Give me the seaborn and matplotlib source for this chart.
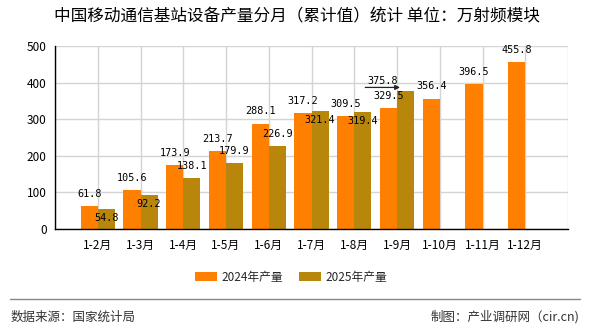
import matplotlib
matplotlib.use("Agg")
import matplotlib.pyplot as plt
import matplotlib.transforms as mtrans
from matplotlib.lines import Line2D
import seaborn as sns
import pandas as pd
import numpy as np

categories = ["1-2月", "1-3月", "1-4月", "1-5月", "1-6月", "1-7月", "1-8月",
              "1-9月", "1-10月", "1-11月", "1-12月"]
values_2024 = [61.8, 105.6, 173.9, 213.7, 288.1, 317.2, 309.5, 329.5, 356.4, 396.5, 455.8]
values_2025 = [54.8, 92.2, 138.1, 179.9, 226.9, 321.4, 319.4, 375.8]
series_names = ["2024年产量", "2025年产量"]
colors = ["#FF8000", "#B8860B"]
# label placement for 2025 series (above / below bar top, or with leader arrow)
label_mode_2025 = ["below", "below", "above", "above", "above", "below", "below", "arrow"]

title = "中国移动通信基站设备产量分月（累计值）统计 单位：万射频模块"
source_text = "数据来源：国家统计局"
credit_text = "制图：产业调研网（cir.cn)"

rows = []
for c, v in zip(categories, values_2024):
    rows.append({"cat": c, "series": series_names[0], "val": v})
for i, c in enumerate(categories):
    v = values_2025[i] if i < len(values_2025) else np.nan
    rows.append({"cat": c, "series": series_names[1], "val": v})
df = pd.DataFrame(rows)

sns.set_style("white")
plt.rcParams["font.family"] = ["Noto Sans CJK SC", "DejaVu Sans"]

W, H = 590, 330
fig = plt.figure(figsize=(W / 100, H / 100), dpi=100)
ax = fig.add_axes([55 / W, 1 - 229 / H, (568 - 55) / W, (229 - 46) / H])

sns.barplot(data=df, x="cat", y="val", hue="series", order=categories,
            hue_order=series_names, palette=colors, width=0.8, ax=ax,
            saturation=1, errorbar=None, zorder=2, linewidth=0, edgecolor="none")

handles, labels = ax.get_legend_handles_labels()
if ax.get_legend() is not None:
    ax.get_legend().remove()

ax.set_xlim(-1, len(categories))
ax.set_ylim(0, 500)
ax.set_yticks(range(0, 501, 100))
ax.set_xticks(range(-1, len(categories) + 1))
ax.set_xticklabels([""] + categories + [""])
ax.set_xlabel("")
ax.set_ylabel("")
ax.grid(True, color="#d4d4d4", lw=1, zorder=0)
ax.set_axisbelow(True)
for s in ["top", "right"]:
    ax.spines[s].set_visible(False)
for s in ["left", "bottom"]:
    ax.spines[s].set_color("black")
    ax.spines[s].set_linewidth(1)
ax.tick_params(axis="both", direction="out", length=4, width=1, color="black",
               labelsize=8.5, labelcolor="black", pad=2)
ax.tick_params(axis="x", pad=3)

mono = "DejaVu Sans Mono"
lab_fs = 7.3

# 2024 labels
bars24 = ax.containers[0]
for bar in bars24:
    h = bar.get_height()
    if np.isnan(h):
        continue
    x = bar.get_x() + bar.get_width() / 2
    ax.annotate(f"{h:.1f}", xy=(x, h), xytext=(0, 8.8), textcoords="offset points",
                ha="center", va="center", fontsize=lab_fs, family=mono, color="black")

# 2025 labels
bars25 = [b for b in ax.containers[1] if not np.isnan(b.get_height())]
for bar, mode in zip(bars25, label_mode_2025):
    h = bar.get_height()
    x = bar.get_x() + bar.get_width() / 2
    if mode == "above":
        ax.annotate(f"{h:.1f}", xy=(x, h), xytext=(0, 8.8), textcoords="offset points",
                    ha="center", va="center", fontsize=lab_fs, family=mono, color="black")
    elif mode == "below":
        ax.annotate(f"{h:.1f}", xy=(x, h), xytext=(0, -6.4), textcoords="offset points",
                    ha="center", va="center", fontsize=lab_fs, family=mono, color="black")
    else:
        tr_tip = mtrans.offset_copy(ax.transData, fig=fig, x=-4.0, y=2.9, units="points")
        tr_start = mtrans.offset_copy(ax.transData, fig=fig, x=-29.0, y=2.9, units="points")
        ax.annotate("", xy=(x, h), xycoords=tr_tip, xytext=(x, h), textcoords=tr_start,
                    arrowprops=dict(arrowstyle="-|>", color="#222222", lw=0.9,
                                    mutation_scale=7, shrinkA=0, shrinkB=0))
        ax.annotate(f"{h:.1f}", xy=(x, h), xytext=(-16.6, 7.6), textcoords="offset points",
                    ha="center", va="center", fontsize=lab_fs, family=mono, color="black")

fig.text(297 / W, 1 - 17 / H, title, ha="center", va="center", fontsize=12, color="black")

fig.legend(handles, labels, loc="center", bbox_to_anchor=(291 / W, 1 - 277 / H),
           ncol=2, frameon=False, fontsize=8.5, handlelength=1.9, handleheight=0.85,
           handletextpad=0.35, columnspacing=1.35)

fig.add_artist(Line2D([10 / W, 580 / W], [1 - 299 / H, 1 - 299 / H],
                      color="#888888", lw=1, transform=fig.transFigure))
fig.text(11 / W, 1 - 317 / H, source_text, ha="left", va="center", fontsize=9, color="#333333")
fig.text(579 / W, 1 - 317 / H, credit_text, ha="right", va="center", fontsize=9, color="#333333")

fig.savefig("out.png", dpi=100, facecolor="white")
